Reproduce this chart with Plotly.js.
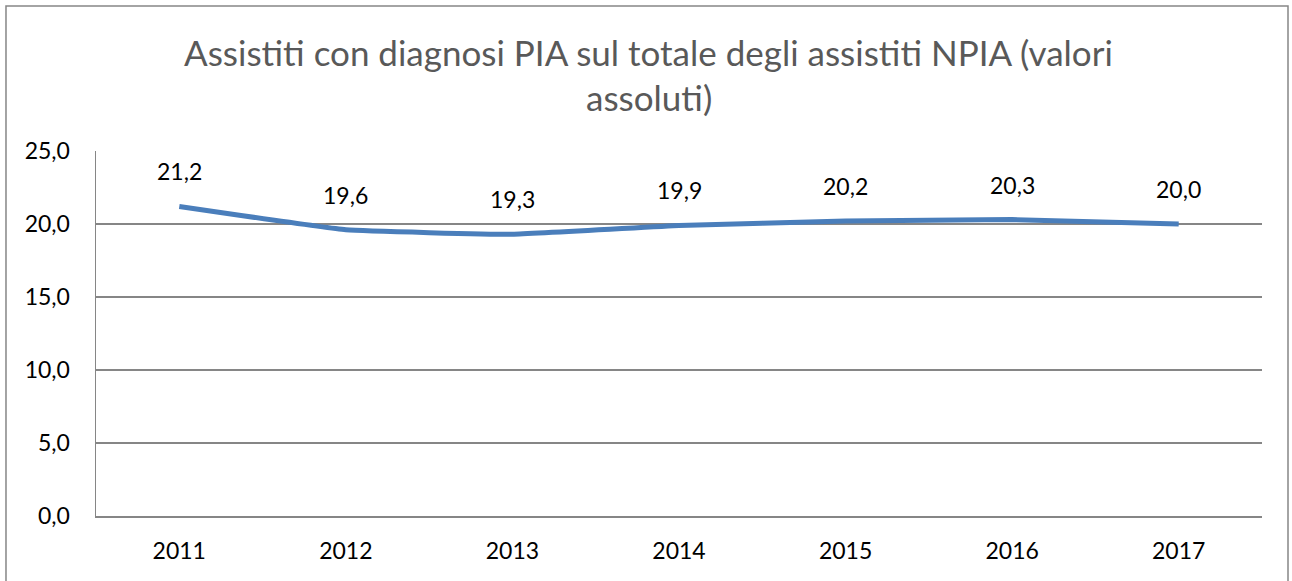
<!DOCTYPE html>
<html>
<head>
<meta charset="utf-8">
<script src="https://cdn.plot.ly/plotly-3.0.1.min.js"></script>
<style>html,body{margin:0;padding:0;background:#fff;}#chart{width:1292px;height:581px;}</style>
</head>
<body>
<div id="chart"></div>
<script>
const years = ['2011','2012','2013','2014','2015','2016','2017'];
const values = [21.2, 19.6, 19.3, 19.9, 20.2, 20.3, 20.0];
const yTicks = [0, 5, 10, 15, 20, 25];
const titleLines = ['Assistiti con diagnosi PIA sul totale degli assistiti NPIA (valori', 'assoluti)'];

const fontFam = 'Lato, "Open Sans", sans-serif';

const trace = {
  x: years, y: values, type: 'scatter', mode: 'lines',
  line: {color: '#4A7EBB', width: 5, shape: 'spline', smoothing: 0.3},
  hoverinfo: 'skip', cliponaxis: false
};

const labelAnns = years.map((yr, i) => ({
  x: i, y: values[i], xref: 'x', yref: 'y',
  text: values[i].toFixed(1).replace('.', ','),
  showarrow: false, yshift: 35,
  font: {family: fontFam, size: 23, color: '#000'}
}));

const titlePix = [52, 97];
const titleAnns = titleLines.map((t, i) => ({
  x: 0.474, y: (581 - titlePix[i] - 65) / 365, xref: 'paper', yref: 'paper',
  text: t, showarrow: false, xanchor: 'center', yanchor: 'middle',
  font: {family: fontFam, size: 35, color: '#595959'}
}));

const layout = {
  width: 1292, height: 581,
  margin: {l: 96, r: 30, t: 151, b: 65},
  paper_bgcolor: '#fff', plot_bgcolor: '#fff',
  separators: ',.',
  showlegend: false,
  xaxis: {type: 'category', range: [-0.5, 6.5], showgrid: false,
    showline: true, linecolor: '#868686', linewidth: 1.5,
    ticks: '', ticklabelstandoff: 14,
    tickfont: {family: fontFam, size: 23, color: '#000'}, fixedrange: true},
  yaxis: {range: [0, 25], tickvals: yTicks, tickformat: '.1f',
    showgrid: true, gridcolor: '#868686', gridwidth: 1.5,
    showline: true, linecolor: '#868686', linewidth: 1.5, zeroline: false,
    ticks: '', ticklabelstandoff: 20,
    tickfont: {family: fontFam, size: 23, color: '#000'}, fixedrange: true},
  annotations: labelAnns.concat(titleAnns),
  shapes: [{type: 'rect', xref: 'paper', yref: 'paper',
    x0: -0.0772, x1: 1.0223, y0: -0.25, y1: 1.397,
    line: {color: '#868686', width: 1.5}, fillcolor: 'rgba(0,0,0,0)', layer: 'below'}]
};

Plotly.newPlot('chart', [trace], layout, {displayModeBar: false, staticPlot: true});
</script>
</body>
</html>
